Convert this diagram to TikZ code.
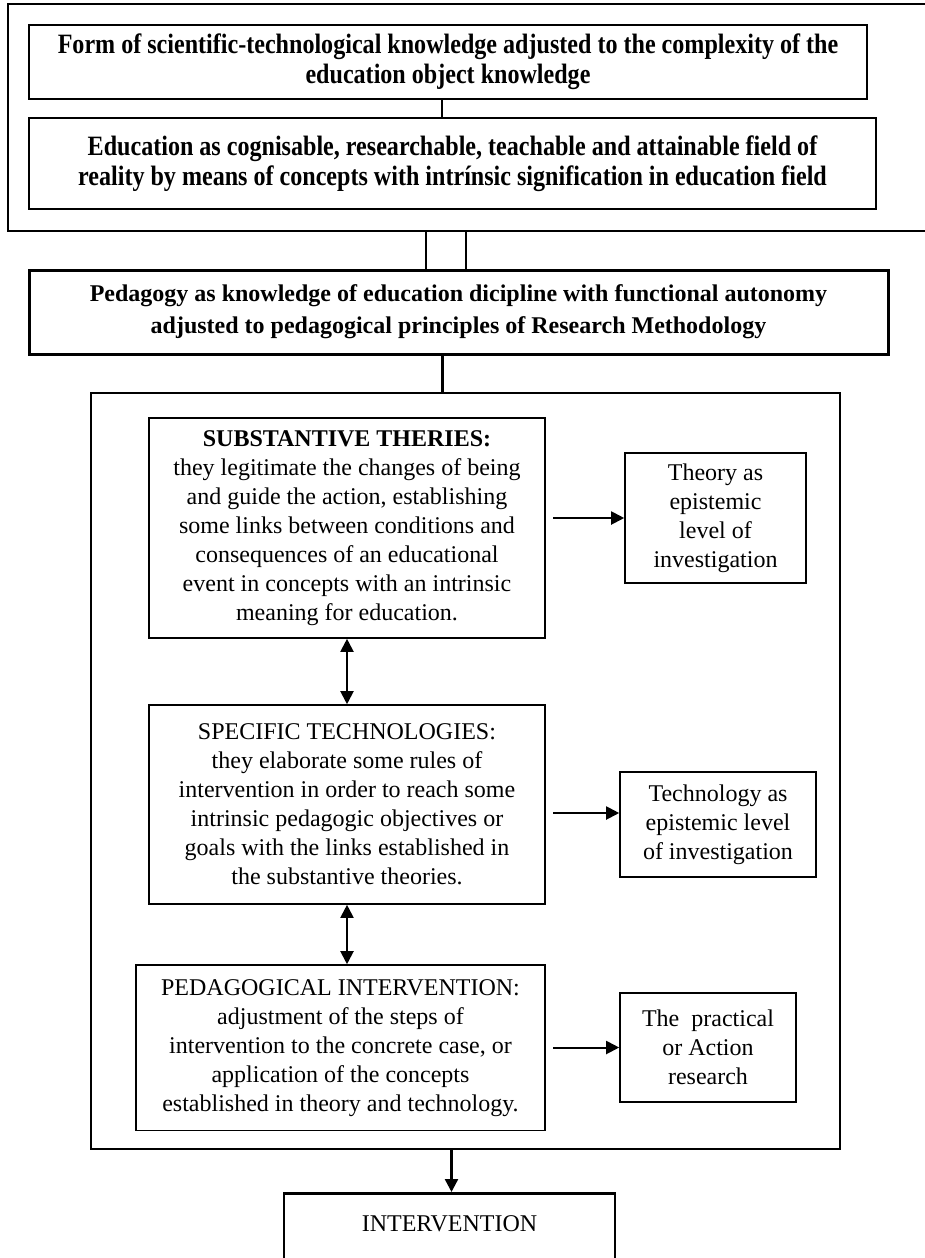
\documentclass[tikz,border=0pt]{standalone}
\usepackage{fontspec}
\setmainfont{Liberation Serif}
\newfontfamily\narrowserif[FakeStretch=0.86]{Liberation Serif}
\usetikzlibrary{arrows.meta,calc}

\begin{document}
\begin{tikzpicture}[x=0.5pt,y=-0.5pt,
  box/.style={draw, line width=0.8pt, inner sep=0pt, align=center,
    font=\fontsize{12}{14.5}\selectfont},
  heavybox/.style={box, line width=1.4pt},
  topbox/.style={heavybox, line width=1.1pt,
    font=\narrowserif\bfseries\fontsize{14}{15}\selectfont},
  link/.style={line width=1.2pt},
  arr/.style={line width=1pt, -{Triangle[length=6.5pt,width=6.5pt]}},
  twoarr/.style={line width=1pt,
    {Triangle[length=6.5pt,width=6.5pt]}-{Triangle[length=6.5pt,width=6.5pt]}}
]
\useasboundingbox (0,0) rectangle (925,1258);
\clip (0,0) rectangle (925,1258);

% outer frame, open at the right
\draw[line width=1.4pt] (960,4) -| (8,231) -- (960,231);
\coordinate (frameS) at (446,231);

% top boxes
\node[topbox, minimum width=419pt, minimum height=37pt] (form) at (448,62)
  {Form of scientific-technological knowledge adjusted to the complexity of the\\
   education object knowledge};
\node[topbox, minimum width=423.5pt, minimum height=45.5pt] (edu) at (452.5,163.5)
  {Education as cognisable, researchable, teachable and attainable field of\\
   reality by means of concepts with intrínsic signification in education field};
\draw[line width=0.8pt] ([xshift=-3pt]form.south) -- ([xshift=-3pt]form.south |- edu.north);

\node[heavybox, line width=1.5pt, minimum width=429.5pt, minimum height=42pt,
  font=\bfseries\fontsize{12}{16}\selectfont] (pedag) at (458.5,312)
  {Pedagogy as knowledge of education dicipline with functional autonomy\\
   adjusted to pedagogical principles of Research Methodology};
\foreach \dx in {-10,10}
  \draw[link] ([xshift=\dx pt]frameS) -- ([xshift=\dx pt]frameS |- pedag.north);

% the frame with the three levels
\node[heavybox, minimum width=374.5pt, minimum height=378pt] (study) at (465.5,771) {};
\draw[link] ([xshift=-8pt]pedag.south) -- ([xshift=-8pt]pedag.south |- study.north);

\node[box, minimum width=198pt, minimum height=110pt] (theories) at (347,528)
  {\textbf{SUBSTANTIVE THERIES:}\\
   they legitimate the changes of being\\
   and guide the action, establishing\\
   some links between conditions and\\
   consequences of an educational\\
   event in concepts with an intrinsic\\
   meaning for education.};
\node[box, minimum width=198pt, minimum height=99.5pt] (techs) at (347,804.5)
  {SPECIFIC TECHNOLOGIES:\\
   they elaborate some rules of\\
   intervention in order to reach some\\
   intrinsic pedagogic objectives or\\
   goals with the links established in\\
   the substantive theories.};
\node[box, minimum width=204.5pt, minimum height=82.75pt] (interv) at (340.5,1047.75)
  {PEDAGOGICAL INTERVENTION:\\
   adjustment of the steps of\\
   intervention to the concrete case, or\\
   application of the concepts\\
   established in theory and technology.};
\draw[twoarr] (theories.south) -- (theories.south |- techs.north);
\draw[twoarr] (techs.south) -- (techs.south |- interv.north);

% epistemic levels
\coordinate (armL) at (553,0);
\node[box, minimum width=90.5pt, minimum height=65pt] (theory) at (715.5,518)
  {Theory as\\ epistemic\\ level of\\ investigation};
\node[box, minimum width=98pt, minimum height=52.5pt] (techno) at (718,824.5)
  {Technology as\\ epistemic level\\ of investigation};
\node[box, minimum width=88pt, minimum height=54.5pt] (action) at (708,1047.5)
  {The\ \ practical\\ or Action\\ research};
\coordinate (technoIn) at ([yshift=5.75pt]techno.west);
\draw[arr] (armL |- theory.west) -- (theory.west);
\draw[arr] (armL |- technoIn) -- (technoIn);
\draw[arr] (armL |- action.west) -- (action.west);

% final step
\node[heavybox, anchor=north, minimum width=165.5pt, inner ysep=10.5pt,
  text height=8.5pt, text depth=25pt] (final) at (449.5,1192) {INTERVENTION};
\draw[arr, line width=1.2pt] ([xshift=-7pt]study.south) -- ([xshift=-7pt]study.south |- final.north);
\end{tikzpicture}
\end{document}
